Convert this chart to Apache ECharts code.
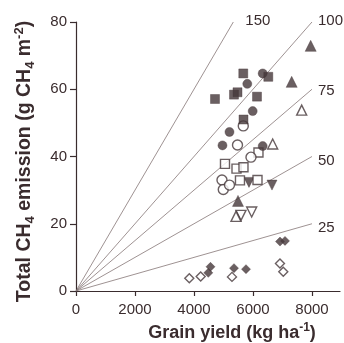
<!DOCTYPE html>
<html>
<head>
<meta charset="utf-8">
<script src="https://cdn.jsdelivr.net/npm/echarts@6/dist/echarts.min.js"></script>
<style>html,body{margin:0;padding:0;background:#fff;}#c{width:344px;height:343px;}</style>
</head>
<body>
<div id="c"></div>
<script>
// Reference lines: g CH4 per kg grain, endpoints [x, y]
const ratioLabels = ['25', '50', '75', '100', '150'];
const ratioEndX = [8000, 8000, 8000, 8000, 5333];
const ratioEndY = [20, 40, 60, 80, 80];

const xTicks = [0, 2000, 4000, 6000, 8000];

const filledSquares = [[5671,64.7],[6519,63.7],[5475,59.1],[5356,58.4],[6136,57.8],[4712,57.1],[5678,51.0]];
const filledCircles = [[6329,64.7],[5807,61.6],[5990,53.5],[5203,47.3],[4966,43.3],[6329,43.1]];
const openCircles = [[5671,49.1],[5475,43.4],[5932,39.8],[4949,33.0],[4993,30.2],[5203,31.5]];
const openSquares = [[6186,41.2],[5051,37.8],[5441,36.4],[5678,36.8],[5559,32.9],[6153,33.0]];
const filledInvTriangles = [[5864,32.3],[6644,31.5]];
const filledTriangles = [[7956,72.9],[7312,62.2],[5492,26.8]];
const openTriangles = [[6668,43.7],[7651,53.8],[5424,22.2]];
const openInvTriangles = [[5593,22.5],[5956,23.5]];
const filledDiamonds = [[4559,7.2],[4485,5.4],[5356,6.8],[5763,6.5],[6915,14.7],[7085,14.9]];
const openDiamonds = [[3841,3.8],[4227,4.3],[5288,4.2],[6915,8.2],[7027,5.7]];

const ink = '#3a2c2e';
const fillC = '#45373a';
const font = 'Liberation Sans, Arial, sans-serif';

const chart = echarts.init(document.getElementById('c'), null, {renderer: 'canvas'});

const series = [];
ratioLabels.forEach((lab, i) => {
  series.push({
    type: 'line', silent: true, symbol: 'none', z: 1,
    lineStyle: {color: '#857676', width: 0.8},
    data: [[0, 0], [ratioEndX[i], ratioEndY[i]]],
    endLabel: {
      show: true, formatter: lab, distance: i === 4 ? 12 : 6,
      offset: i < 2 ? [0, 4] : (i === 2 ? [0, 2] : [0, -1]),
      color: ink, fontSize: 15, fontFamily: font
    }
  });
});

function sc(data, symbol, size, filled, rotate) {
  return {
    type: 'scatter', data: data, symbol: symbol, symbolSize: size, symbolRotate: rotate || 0, z: 3,
    itemStyle: filled ? {color: fillC, borderColor: fillC, borderWidth: 0.5}
                      : {color: '#ffffff', borderColor: fillC, borderWidth: 1.4}
  };
}
series.push(sc(openDiamonds, 'diamond', 9, false));
series.push(sc(filledDiamonds, 'diamond', 9, true));
series.push(sc(openInvTriangles, 'triangle', 10, false, 180));
series.push(sc(openTriangles, 'triangle', 10, false));
series.push(sc(filledTriangles, 'triangle', 11, true));
series.push(sc(filledInvTriangles, 'triangle', 10, true, 180));
series.push(sc(openSquares, 'rect', 9, false));
series.push(sc(openCircles, 'circle', 10, false));
series.push(sc(filledCircles, 'circle', 9, true));
series.push(sc(filledSquares, 'rect', 9, true));

function rich(size) {
  return {
    sub: {fontSize: size, fontWeight: 'bold', fontFamily: font, color: ink, verticalAlign: 'bottom', lineHeight: size},
    sup: {fontSize: size, fontWeight: 'bold', fontFamily: font, color: ink, verticalAlign: 'top', lineHeight: size}
  };
}

chart.setOption({
  animation: false,
  backgroundColor: '#ffffff',
  grid: {left: 76, right: 4, top: 22, bottom: 52, containLabel: false, outerBoundsMode: 'none'},
  xAxis: {
    type: 'value', min: 0, max: 8950, interval: 2000,
    splitLine: {show: false},
    axisLine: {show: true, onZero: false, lineStyle: {color: ink, width: 1.2}},
    axisTick: {show: true, length: 5, customValues: xTicks, lineStyle: {color: ink, width: 1.2}},
    axisLabel: {customValues: xTicks, formatter: v => String(v), color: ink, fontSize: 15, fontFamily: font, margin: 11},
    name: 'Grain yield (kg ha{sup|-1})', nameLocation: 'middle', nameGap: 31,
    nameTextStyle: {color: ink, fontSize: 18, fontWeight: 'bold', fontFamily: font, lineHeight: 22,
      padding: [0, 0, 0, 48], rich: rich(12)}
  },
  yAxis: {
    type: 'value', min: 0, max: 80, interval: 20,
    splitLine: {show: false},
    axisLine: {show: true, lineStyle: {color: ink, width: 1.2}},
    axisTick: {show: true, length: 6, lineStyle: {color: ink, width: 1.2}},
    axisLabel: {formatter: v => String(v), color: ink, fontSize: 15, fontFamily: font, margin: 9},
    name: 'Total CH{sub|4} emission (g CH{sub|4} m{sup|-2})', nameLocation: 'middle', nameGap: 39, nameRotate: 90,
    nameTextStyle: {color: ink, fontSize: 19.5, fontWeight: 'bold', fontFamily: font, lineHeight: 24,
      padding: [0, 10, 0, 0], rich: rich(13)}
  },
  series: series
});
</script>
</body>
</html>
